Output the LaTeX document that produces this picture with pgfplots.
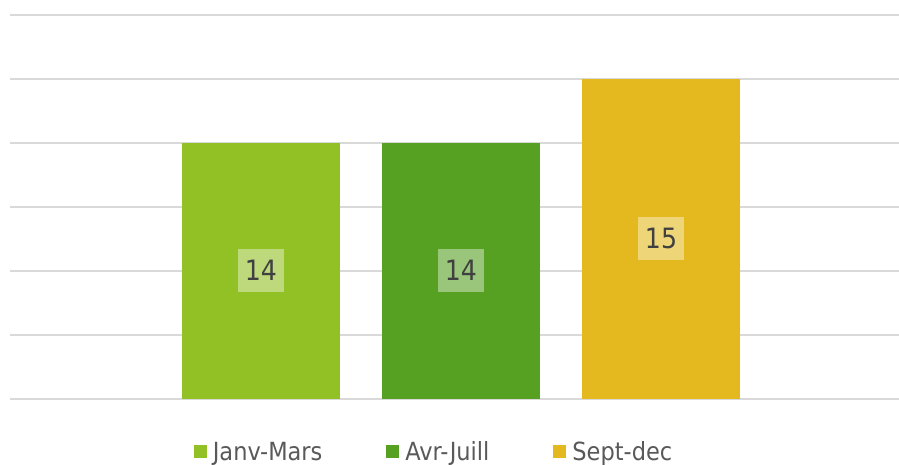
\documentclass[border=0pt]{standalone}
\usepackage{fontspec}
\setmainfont{DejaVu Sans Condensed}
\usepackage{pgfplots}
\pgfplotsset{compat=1.18}
\definecolor{c1}{HTML}{92C125}
\definecolor{c2}{HTML}{56A022}
\definecolor{c3}{HTML}{E4B91F}
\definecolor{gridc}{HTML}{D9D9D9}
\definecolor{lab}{HTML}{404040}
\definecolor{legt}{HTML}{595959}
\begin{document}
\begin{tikzpicture}
\begin{axis}[
  scale only axis, width=889pt, height=384pt,
  xmin=-1.255, xmax=3.19, ymin=10, ymax=16,
  ytick={10,...,16}, yticklabels={}, xtick=\empty,
  ymajorgrids, grid style={gridc, line width=1.5pt},
  axis line style={draw=none}, tick style={draw=none},
  /pgf/number format/assume math mode=true,
  ybar, bar width=158pt, bar shift=0pt,
  visualization depends on=rawy \as \rawy,
  nodes near coords,
  every node near coord/.append style={anchor=center, yshift={-(\rawy-10)*32pt},
    fill=white, fill opacity=0.4, text opacity=1, text=lab,
    font=\fontsize{28}{30}\selectfont, text height=20pt, text depth=0pt,
    inner xsep=7pt, inner ysep=11.5pt},
  legend style={at={(0.477,-0.138)}, anchor=center, legend columns=3,
    draw=none, fill=none, font=\fontsize{25}{30}\selectfont, text=legt,
    /tikz/every even column/.append style={column sep=62pt}},
  legend image code/.code={\fill[#1] (0pt,-6.5pt) rectangle (13pt,6.5pt); \path (17pt,0pt);},
]
\addplot[fill=c1, draw=none] coordinates {(0,14)};
\addplot[fill=c2, draw=none] coordinates {(1,14)};
\addplot[fill=c3, draw=none] coordinates {(2,15)};
\legend{Janv-Mars, Avr-Juill\hspace{12pt}, Sept-dec}
\end{axis}
\pgfresetboundingbox
\path[use as bounding box] (-10pt,-66pt) rectangle (889pt,399pt);
\end{tikzpicture}
\end{document}
